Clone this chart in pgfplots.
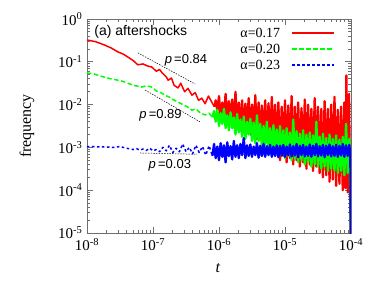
\documentclass[border=0pt]{standalone}
\usepackage{fontspec}
\setmainfont{Liberation Serif}
\newfontfamily\sansf{Liberation Sans}
\usepackage{pgfplots}
\usepackage{pgfplotstable}
\pgfplotsset{compat=1.18}
\definecolor{framegray}{RGB}{110,110,110}
\definecolor{myred}{RGB}{255,0,0}
\definecolor{mygreen}{RGB}{0,255,0}
\definecolor{myblue}{RGB}{0,0,255}

\pgfplotstableread{
lt lf
-8.00 -0.49
-7.87 -0.53
-7.73 -0.61
-7.63 -0.68
-7.53 -0.77
-7.45 -0.82
-7.38 -0.89
-7.30 -0.97
-7.23 -1.07
-7.15 -1.05
-7.08 -1.10
-7.02 -1.12
-6.95 -1.22
-6.90 -1.18
-6.86 -1.26
-6.80 -1.35
-6.77 -1.43
-6.72 -1.38
-6.68 -1.55
-6.62 -1.61
-6.58 -1.50
-6.52 -1.70
-6.47 -1.62
-6.41 -1.78
-6.36 -1.72
-6.31 -1.90
-6.26 -1.85
-6.21 -1.98
-6.16 -1.80
-6.11 -1.94
-6.07 -2.05
}\redA

\pgfplotstableread{
lt lf
-6.07 -2.05
-6.050 -1.90
-6.025 -2.15
-6.000 -1.80
-5.975 -2.30
-5.950 -1.95
-5.925 -2.25
-5.900 -1.75
-5.875 -2.40
-5.850 -1.92
-5.825 -2.35
-5.800 -1.88
-5.775 -2.50
-5.750 -1.70
-5.725 -2.45
-5.700 -1.95
-5.675 -2.55
-5.650 -1.90
-5.625 -2.60
-5.600 -1.98
-5.575 -2.50
-5.550 -1.85
-5.525 -2.70
-5.500 -2.00
-5.475 -2.65
-5.450 -1.78
-5.425 -2.80
-5.400 -1.95
-5.375 -2.75
-5.350 -2.02
-5.325 -2.90
-5.300 -1.90
-5.275 -2.85
-5.250 -1.97
-5.225 -3.00
-5.200 -1.82
-5.175 -2.95
-5.150 -2.00
-5.125 -3.10
-5.100 -1.95
-5.075 -3.30
-5.050 -2.05
-5.025 -3.20
-5.000 -1.90
-4.975 -3.35
-4.950 -2.02
-4.925 -3.25
-4.900 -1.80
-4.875 -3.40
-4.850 -2.05
-4.825 -3.30
-4.800 -1.95
-4.775 -3.45
-4.750 -2.08
-4.725 -3.35
-4.700 -1.88
-4.675 -3.50
-4.650 -2.00
-4.625 -3.40
-4.600 -2.10
-4.575 -3.55
-4.550 -1.85
-4.525 -3.45
-4.500 -2.05
-4.475 -3.60
-4.450 -2.10
-4.425 -3.70
-4.400 -1.92
-4.375 -3.65
-4.350 -2.10
-4.325 -3.80
-4.300 -2.00
-4.275 -3.75
-4.250 -1.82
-4.225 -3.90
-4.200 -2.12
-4.175 -3.85
-4.150 -2.05
-4.125 -4.00
-4.100 -1.95
-4.085 -3.95
-4.070 -1.32
-4.050 -4.05
-4.030 -1.75
-4.015 -3.90
-4.000 -6.00
}\redB

\pgfplotstableread{
lt lf
-8.00 -1.26
-7.90 -1.28
-7.80 -1.33
-7.73 -1.36
-7.63 -1.40
-7.53 -1.43
-7.45 -1.46
-7.38 -1.50
-7.30 -1.55
-7.23 -1.57
-7.17 -1.59
-7.10 -1.56
-7.02 -1.59
-6.95 -1.68
-6.88 -1.72
-6.82 -1.78
-6.76 -1.82
-6.70 -1.88
-6.62 -1.94
-6.55 -2.00
-6.48 -2.05
-6.41 -2.13
-6.35 -2.10
-6.28 -2.20
-6.21 -2.24
-6.15 -2.20
-6.10 -2.30
}\greenA

\pgfplotstableread{
lt lf
-6.10 -2.30
-6.075 -2.15
-6.050 -2.40
-6.025 -2.12
-6.000 -2.50
-5.975 -2.20
-5.950 -2.45
-5.925 -2.10
-5.900 -2.55
-5.875 -2.25
-5.850 -2.60
-5.825 -2.18
-5.800 -2.55
-5.775 -2.30
-5.750 -2.70
-5.725 -2.22
-5.700 -2.65
-5.675 -2.35
-5.650 -2.75
-5.625 -2.28
-5.600 -2.80
-5.575 -2.40
-5.550 -2.70
-5.525 -2.33
-5.500 -2.85
-5.475 -2.42
-5.450 -2.90
-5.425 -2.25
-5.400 -2.85
-5.375 -2.45
-5.350 -3.00
-5.325 -2.50
-5.300 -2.95
-5.275 -2.40
-5.250 -3.05
-5.225 -2.55
-5.200 -3.10
-5.175 -2.48
-5.150 -3.05
-5.125 -2.58
-5.100 -3.15
-5.075 -2.50
-5.050 -3.20
-5.025 -2.60
-5.000 -3.25
-4.975 -2.55
-4.950 -3.20
-4.925 -2.65
-4.900 -3.30
-4.875 -2.35
-4.850 -3.25
-4.825 -2.62
-4.800 -3.35
-4.775 -2.68
-4.750 -3.30
-4.725 -2.60
-4.700 -3.40
-4.675 -2.70
-4.650 -3.35
-4.625 -2.65
-4.600 -3.45
-4.575 -2.72
-4.550 -3.40
-4.525 -2.40
-4.500 -3.45
-4.475 -2.75
-4.450 -3.50
-4.425 -2.68
-4.400 -3.45
-4.375 -2.78
-4.350 -3.55
-4.325 -2.70
-4.300 -3.50
-4.275 -2.80
-4.250 -3.55
-4.225 -2.72
-4.200 -3.60
-4.175 -2.82
-4.150 -3.55
-4.125 -2.75
-4.100 -3.65
-4.075 -2.45
-4.050 -3.60
-4.025 -2.80
-4.010 -3.65
-4.000 -6.00
}\greenB

\pgfplotstableread{
lt lf
-8.00 -2.98
-7.90 -2.98
-7.80 -2.99
-7.70 -2.99
-7.60 -3.00
-7.50 -2.98
-7.40 -3.02
-7.30 -3.05
-7.25 -3.03
-7.20 -3.06
-7.15 -3.04
-7.10 -3.07
-7.05 -3.02
-7.00 -3.08
-6.95 -3.05
-6.90 -3.10
-6.85 -3.00
-6.80 -3.08
-6.75 -2.95
-6.70 -3.12
-6.65 -3.02
-6.60 -3.10
-6.55 -2.92
-6.50 -3.10
-6.45 -3.00
-6.40 -3.15
-6.35 -2.95
-6.30 -3.12
-6.25 -2.98
-6.20 -3.18
-6.15 -2.96
-6.10 -3.20
}\blueA

\pgfplotstableread{
lt lf
-6.10 -3.20
-6.075 -2.92
-6.050 -3.25
-6.025 -2.98
-6.000 -3.30
-5.975 -2.90
-5.950 -3.22
-5.925 -2.95
-5.900 -3.35
-5.875 -2.88
-5.850 -3.20
-5.825 -2.97
-5.800 -3.28
-5.775 -2.85
-5.750 -3.22
-5.725 -2.95
-5.700 -3.25
-5.675 -2.92
-5.650 -3.18
-5.625 -2.78
-5.600 -3.25
-5.575 -2.95
-5.550 -3.20
-5.525 -2.93
-5.500 -3.22
-5.475 -2.98
-5.450 -3.18
-5.425 -2.90
-5.400 -3.24
-5.375 -2.96
-5.350 -3.20
-5.325 -2.92
-5.300 -3.22
-5.275 -2.97
-5.250 -3.18
-5.225 -2.94
-5.200 -3.22
-5.175 -2.98
-5.150 -3.20
-5.125 -2.95
-5.100 -3.23
-5.075 -2.96
-5.050 -3.19
-5.025 -2.94
-5.000 -3.22
-4.975 -2.98
-4.950 -3.18
-4.925 -2.93
-4.900 -3.21
-4.875 -2.97
-4.850 -3.19
-4.825 -2.92
-4.800 -3.23
-4.775 -2.96
-4.750 -3.18
-4.725 -2.94
-4.700 -3.21
-4.675 -2.98
-4.650 -3.20
-4.625 -2.93
-4.600 -3.22
-4.575 -2.96
-4.550 -3.18
-4.525 -2.92
-4.500 -3.21
-4.475 -2.97
-4.450 -3.19
-4.425 -2.94
-4.400 -3.23
-4.375 -2.96
-4.350 -3.18
-4.325 -2.93
-4.300 -3.21
-4.275 -2.97
-4.250 -3.20
-4.225 -2.94
-4.200 -3.22
-4.175 -2.96
-4.150 -3.19
-4.125 -2.92
-4.100 -3.22
-4.075 -2.95
-4.050 -3.20
-4.025 -2.94
-4.010 -3.21
-4.000 -6.00
}\blueB

\begin{document}
\begin{tikzpicture}
\begin{axis}[
  scale only axis,
  width=264bp, height=214bp,
  xmode=log, ymode=log,
  xmin=1e-8, xmax=1e-4,
  ymin=1e-5, ymax=1,
  font=\fontsize{13bp}{16bp}\selectfont,
  ticklabel style={font=\fontsize{15bp}{17bp}\selectfont},
  yticklabel style={xshift=-1bp},
  xticklabel style={yshift=-2bp},
  axis line style={framegray, line width=0.9bp},
  tick style={framegray, line width=0.8bp},
  major tick length=6bp, minor tick length=3.5bp,
  tick align=inside,
  xtick={1e-8,1e-7,1e-6,1e-5,1e-4},
  xticklabels={10\textsuperscript{-8},10\textsuperscript{-7},10\textsuperscript{-6},10\textsuperscript{-5},10\textsuperscript{-4}},
  ytick={1e-5,1e-4,1e-3,1e-2,1e-1,1},
  yticklabels={10\textsuperscript{-5},10\textsuperscript{-4},10\textsuperscript{-3},10\textsuperscript{-2},10\textsuperscript{-1},10\textsuperscript{0}},
  xlabel={\textit{t}},
  ylabel={frequency},
  xlabel style={at={(axis description cs:0.496,-0.164)}, anchor=center, font=\fontsize{16bp}{18bp}\selectfont},
  ylabel style={at={(axis description cs:-0.227,0.5)}, anchor=center, font=\fontsize{16bp}{18bp}\selectfont},
  line join=round,
]
\addplot[color=myred, line width=1.5bp, solid] table[x expr={10^(\thisrow{lt})}, y expr={10^(\thisrow{lf})}] {\redA};
\addplot[color=mygreen, line width=1.5bp, dash pattern=on 4.5bp off 2.5bp] table[x expr={10^(\thisrow{lt})}, y expr={10^(\thisrow{lf})}] {\greenA};
\addplot[color=myblue, line width=1.5bp, dash pattern=on 2.5bp off 2.5bp] table[x expr={10^(\thisrow{lt})}, y expr={10^(\thisrow{lf})}] {\blueA};
\addplot[color=myred, line width=2.3bp, solid] table[x expr={10^(\thisrow{lt})}, y expr={10^(\thisrow{lf})}] {\redB};
\addplot[color=mygreen, line width=2.3bp, solid] table[x expr={10^(\thisrow{lt})}, y expr={10^(\thisrow{lf})}] {\greenB};
\addplot[color=myblue, line width=2.3bp, solid] table[x expr={10^(\thisrow{lt})}, y expr={10^(\thisrow{lf})}] {\blueB};
% fitted power laws
\addplot[black, line width=0.5bp, dash pattern=on 1.5bp off 1.2bp] coordinates {(5.89e-8,0.162) (4.37e-7,0.0302)};
\addplot[black, line width=0.5bp, dash pattern=on 1.5bp off 1.2bp] coordinates {(7.59e-8,0.0219) (5.13e-7,0.00398)};
\addplot[black, line width=0.5bp, dash pattern=on 1.5bp off 1.2bp] coordinates {(6.31e-8,7.41e-4) (4.68e-7,6.92e-4)};
\node[font=\sansf\fontsize{13bp}{15bp}\selectfont] at (axis cs:3.16e-7,0.110) {\textit{p}\,=0.84};
\node[font=\sansf\fontsize{13bp}{15bp}\selectfont] at (axis cs:1.3e-7,5.7e-3) {\textit{p}\,=0.89};
\node[font=\sansf\fontsize{13bp}{15bp}\selectfont] at (axis cs:1.8e-7,3.9e-4) {\textit{p}\,=0.03};
\node[font=\sansf\fontsize{14bp}{16bp}\selectfont, anchor=west] at (rel axis cs:0.015,0.939) {(a) aftershocks};
% legend
\node[font=\fontsize{14bp}{16bp}\selectfont, anchor=east] at (rel axis cs:0.745,0.935) {α=0.17};
\node[font=\fontsize{14bp}{16bp}\selectfont, anchor=east] at (rel axis cs:0.745,0.858) {α=0.20};
\node[font=\fontsize{14bp}{16bp}\selectfont, anchor=east] at (rel axis cs:0.745,0.785) {α=0.23};
\draw[myred, line width=2bp] (rel axis cs:0.777,0.935) -- (rel axis cs:0.936,0.935);
\draw[mygreen, line width=2bp, dash pattern=on 4.5bp off 2.5bp] (rel axis cs:0.777,0.858) -- (rel axis cs:0.936,0.858);
\draw[myblue, line width=2bp, dash pattern=on 2.5bp off 2.5bp] (rel axis cs:0.777,0.785) -- (rel axis cs:0.936,0.785);
\end{axis}
\pgfresetboundingbox
\path[use as bounding box] ([xshift=-87bp,yshift=-48bp]current axis.south west) rectangle ([xshift=28bp,yshift=19bp]current axis.north east);
\end{tikzpicture}
\end{document}
